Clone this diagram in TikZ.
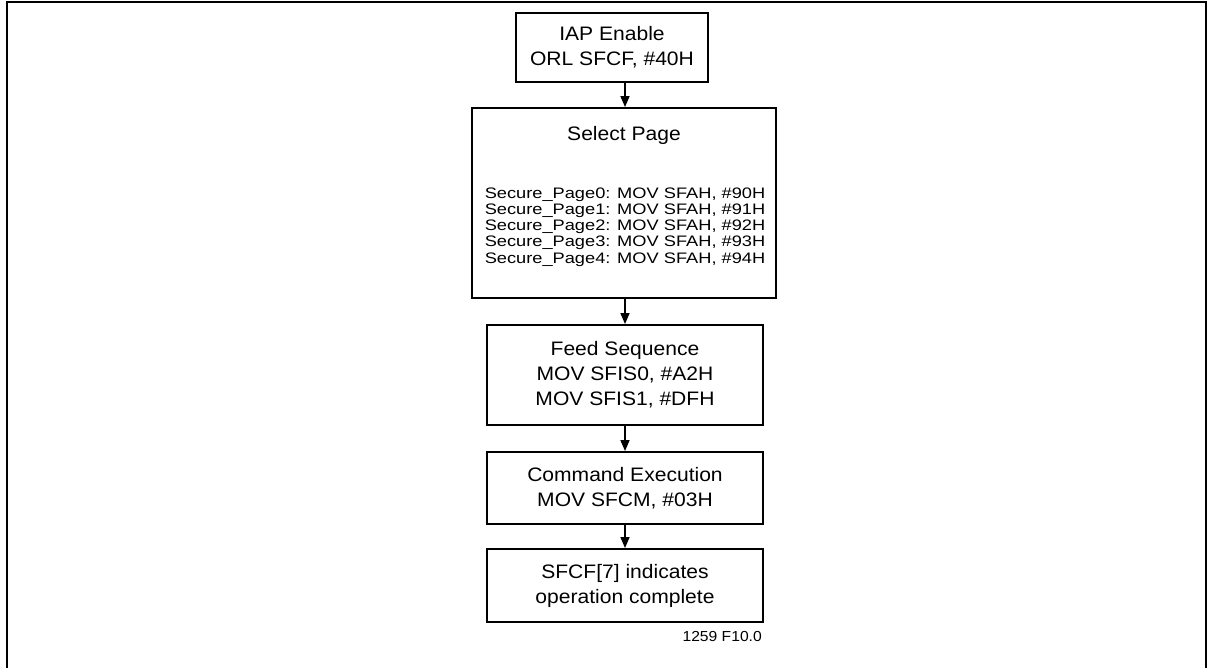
\documentclass[tikz,border=0pt]{standalone}
\usepackage{fontspec}
\setmainfont[FakeStretch=1.08]{Liberation Sans}
\newfontfamily\listfont[FakeStretch=1.2]{Liberation Sans}
\usetikzlibrary{arrows.meta}
\begin{document}
\begin{tikzpicture}[x=1pt,y=-1pt,
  box/.style={draw=black, line width=1.9pt, inner sep=0pt, align=center,
    font=\fontsize{19.5}{25}\selectfont},
  plain/.style={inner sep=0pt, align=center},
  conn/.style={line width=1.6pt, -{Triangle[length=11pt,width=9pt]}}]
\useasboundingbox (0,0) rectangle (1212,668);
\fill[white] (0,0) rectangle (1212,668);
\draw[line width=2pt] (7,672) -- (7,2) -- (1206,2) -- (1206,672);

\node[box, minimum width=192pt, minimum height=69pt] (iap) at (612,47.5)
  {IAP Enable\\ORL SFCF, \#40H};
\node[box, minimum width=304pt, minimum height=190pt] (sel) at (624,203) {};
\node[plain, font=\fontsize{19.5}{25}\selectfont] (selt) at (624,135) {Select Page};
\node[plain, align=left, font=\listfont\fontsize{15.2}{16.2}\selectfont] (sell) at (625,227)
  {Secure\_Page0: MOV SFAH, \#90H\\Secure\_Page1: MOV SFAH, \#91H\\Secure\_Page2: MOV SFAH, \#92H\\Secure\_Page3: MOV SFAH, \#93H\\Secure\_Page4: MOV SFAH, \#94H};
\node[box, minimum width=276pt, minimum height=100pt] (feed) at (625,375)
  {Feed Sequence\\MOV SFIS0, \#A2H\\MOV SFIS1, \#DFH};
\node[box, minimum width=276pt, minimum height=72pt] (cmd) at (625,488)
  {Command Execution\\MOV SFCM, \#03H};
\node[box, minimum width=276pt, minimum height=73pt] (done) at (625,585.5)
  {SFCF[7] indicates\\operation complete};
\node[plain, anchor=east, font=\fontsize{14.5}{16}\selectfont] (fig) at (762,637) {1259 F10.0};

\draw[conn] (iap.south -| sel.north) ++(1,0) coordinate (a1s) -- (sel.north -| a1s);
\draw[conn] (sel.south -| feed.north) -- (feed.north);
\draw[conn] (feed.south) -- (cmd.north);
\draw[conn] (cmd.south) -- (done.north);
\end{tikzpicture}
\end{document}
